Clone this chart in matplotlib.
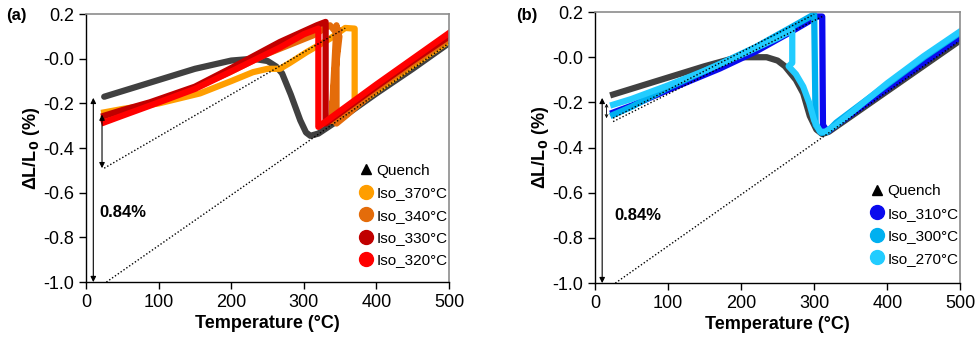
import numpy as np
import matplotlib
matplotlib.use('Agg')
import matplotlib.pyplot as plt
from matplotlib.lines import Line2D

plt.rcParams['font.family'] = ['Liberation Sans', 'DejaVu Sans']
plt.rcParams['axes.unicode_minus'] = False

# ---- panel (a) data: temperature (°C), dL/L0 (%)
qa_T = [25, 60, 100, 150, 200, 230, 250, 262, 270, 282, 295, 303, 309, 320, 350, 400, 450, 500]
qa_L = [-0.17, -0.135, -0.095, -0.045, -0.008, 0.0, -0.01, -0.035, -0.065, -0.16, -0.275, -0.33, -0.345, -0.335, -0.27, -0.155, -0.045, 0.07]

a370_T = [500, 450, 400, 370, 370, 357, 336, 304, 280, 267, 250, 230, 200, 157, 100, 50, 25]
a370_L = [0.08, -0.03, -0.145, -0.215, 0.135, 0.138, 0.09, 0.03, -0.02, -0.045, -0.045, -0.06, -0.1, -0.155, -0.2, -0.225, -0.24]

a340_T = [500, 450, 400, 360, 345, 345, 338, 348, 340, 346, 342, 349, 336, 313, 244, 198, 150, 88, 50, 25]
a340_L = [0.09, -0.02, -0.135, -0.25, -0.29, 0.15, -0.28, 0.13, -0.2, 0.12, -0.1, 0.1, 0.15, 0.105, 0.015, -0.06, -0.13, -0.2, -0.24, -0.265]

a330_T = [500, 450, 400, 330, 330, 318, 267, 198, 150, 88, 50, 25]
a330_L = [0.1, -0.01, -0.125, -0.29, 0.165, 0.15, 0.075, -0.045, -0.125, -0.195, -0.23, -0.255]

a320_T = [500, 450, 400, 320, 320, 300, 267, 198, 150, 88, 50, 25]
a320_L = [0.115, 0.0, -0.115, -0.305, 0.135, 0.11, 0.05, -0.06, -0.135, -0.21, -0.255, -0.285]

# extrapolation lines (a)
a_dot1_T = [28, 500]
a_dot1_L = [-1.0, 0.07]
a_dot2_T = [25, 357]
a_dot2_L = [-0.49, 0.137]

# ---- panel (b) data
qb_T = [25, 60, 100, 150, 195, 235, 250, 260, 275, 285, 294, 303, 311, 320, 400, 500]
qb_L = [-0.165, -0.13, -0.09, -0.04, 0.0, 0.0, -0.015, -0.04, -0.1, -0.16, -0.26, -0.32, -0.34, -0.33, -0.15, 0.075]

b310_T = [500, 450, 400, 330, 318, 312, 311, 304, 267, 220, 171, 100, 50, 25]
b310_L = [0.09, -0.025, -0.14, -0.3, -0.33, -0.3, 0.18, 0.18, 0.11, 0.025, -0.05, -0.145, -0.215, -0.245]

b300_T = [500, 450, 400, 330, 318, 310, 302, 300, 270, 220, 171, 100, 50, 25]
b300_L = [0.11, 0.0, -0.12, -0.29, -0.33, -0.335, -0.3, 0.19, 0.135, 0.045, -0.03, -0.135, -0.22, -0.255]

b270_T = [500, 450, 400, 330, 315, 308, 300, 293, 285, 275, 265, 270, 270, 250, 200, 150, 100, 50, 25]
b270_L = [0.115, 0.005, -0.115, -0.3, -0.33, -0.33, -0.28, -0.2, -0.13, -0.075, -0.04, -0.025, 0.12, 0.085, 0.01, -0.06, -0.125, -0.185, -0.21]

b_dot1_T = [28, 500]
b_dot1_L = [-1.0, 0.075]
b_dot2_T = [25, 300]
b_dot2_L = [-0.27, 0.19]
b_dot3_T = [25, 311]
b_dot3_L = [-0.285, 0.18]

gray = '#404040'
fig = plt.figure(figsize=(9.8, 3.44), dpi=100)
axa = fig.add_axes([0.0878, 0.180, 0.3704, 0.779])
axb = fig.add_axes([0.607, 0.177, 0.373, 0.788])


def style(ax):
    ax.set_xlim(0, 500)
    ax.set_ylim(-1.0, 0.2)
    ax.set_xticks(np.arange(0, 501, 100))
    ax.set_yticks(np.arange(-1.0, 0.21, 0.2))
    ax.yaxis.set_major_formatter(matplotlib.ticker.FormatStrFormatter('%.1f'))
    ax.tick_params(direction='out', length=5, width=1, labelsize=13, colors='black')
    for s in ['top', 'right']:
        ax.spines[s].set_color('#8c8c8c')
        ax.spines[s].set_linewidth(1.2)
    for s in ['left', 'bottom']:
        ax.spines[s].set_linewidth(1.0)
    ax.set_xlabel('Temperature (°C)', fontsize=13, fontweight='bold', labelpad=3)
    ax.set_ylabel('ΔL/L$_\\mathbf{0}$ (%)', fontsize=13, fontweight='bold', labelpad=1)


lw = 4.5
# panel (a)
axa.plot(qa_T, qa_L, color=gray, lw=lw, solid_capstyle='round')
axa.plot(a370_T, a370_L, color='#FF9E00', lw=lw)
axa.plot(a340_T, a340_L, color='#E46C0A', lw=lw)
axa.plot(a330_T, a330_L, color='#C00000', lw=lw)
axa.plot(a320_T, a320_L, color='#FF0000', lw=lw)
axa.plot(a_dot1_T, a_dot1_L, color='black', lw=1, ls=(0, (1, 1.5)))
axa.plot(a_dot2_T, a_dot2_L, color='black', lw=1, ls=(0, (1, 1.5)))
axa.annotate('', xy=(10, -1.0), xytext=(10, -0.175),
             arrowprops=dict(arrowstyle='<|-|>', color='black', lw=0.8,
                             mutation_scale=8, shrinkA=0, shrinkB=0))
axa.annotate('', xy=(22, -0.49), xytext=(22, -0.25),
             arrowprops=dict(arrowstyle='<|-|>', color='black', lw=0.8,
                             mutation_scale=8, shrinkA=0, shrinkB=0))
axa.text(19, -0.69, '0.84%', fontsize=12, fontweight='bold', va='center')
style(axa)
fig.text(0.006, 0.955, '(a)', fontsize=12, fontweight='bold', va='center')

ha = [Line2D([], [], marker='^', color='black', ls='none', ms=7),
      Line2D([], [], marker='o', color='#FF9E00', ls='none', ms=10),
      Line2D([], [], marker='o', color='#E46C0A', ls='none', ms=10),
      Line2D([], [], marker='o', color='#C00000', ls='none', ms=10),
      Line2D([], [], marker='o', color='#FF0000', ls='none', ms=10)]
axa.legend(ha, ['Quench', 'Iso_370°C', 'Iso_340°C', 'Iso_330°C', 'Iso_320°C'],
           loc='lower right', bbox_to_anchor=(1.025, 0.015), frameon=False,
           fontsize=11, handletextpad=0.1, labelspacing=0.55, handlelength=1.2,
           borderpad=0.2)

# panel (b)
axb.plot(qb_T, qb_L, color=gray, lw=lw)
axb.plot(b310_T, b310_L, color='#0A0AEE', lw=lw)
axb.plot(b300_T, b300_L, color='#00B0F0', lw=lw)
axb.plot(b270_T, b270_L, color='#22CCFF', lw=lw)
axb.plot(b_dot1_T, b_dot1_L, color='black', lw=1, ls=(0, (1, 1.5)))
axb.plot(b_dot2_T, b_dot2_L, color='black', lw=1, ls=(0, (1, 1.5)))
axb.plot(b_dot3_T, b_dot3_L, color='black', lw=1, ls=(0, (1, 1.5)))
axb.annotate('', xy=(10, -1.0), xytext=(10, -0.18),
             arrowprops=dict(arrowstyle='<|-|>', color='black', lw=0.8,
                             mutation_scale=8, shrinkA=0, shrinkB=0))
axb.annotate('', xy=(16, -0.27), xytext=(16, -0.205),
             arrowprops=dict(arrowstyle='<->', color='black', lw=0.6,
                             mutation_scale=5, shrinkA=0, shrinkB=0))
axb.text(27, -0.70, '0.84%', fontsize=12, fontweight='bold', va='center')
style(axb)
fig.text(0.527, 0.955, '(b)', fontsize=12, fontweight='bold', va='center')

hb = [Line2D([], [], marker='^', color='black', ls='none', ms=7),
      Line2D([], [], marker='o', color='#0A0AEE', ls='none', ms=10),
      Line2D([], [], marker='o', color='#00B0F0', ls='none', ms=10),
      Line2D([], [], marker='o', color='#22CCFF', ls='none', ms=10)]
axb.legend(hb, ['Quench', 'Iso_310°C', 'Iso_300°C', 'Iso_270°C'],
           loc='lower right', bbox_to_anchor=(1.025, 0.025), frameon=False,
           fontsize=11, handletextpad=0.1, labelspacing=0.55, handlelength=1.2,
           borderpad=0.2)

fig.savefig('out.png', dpi=100)
